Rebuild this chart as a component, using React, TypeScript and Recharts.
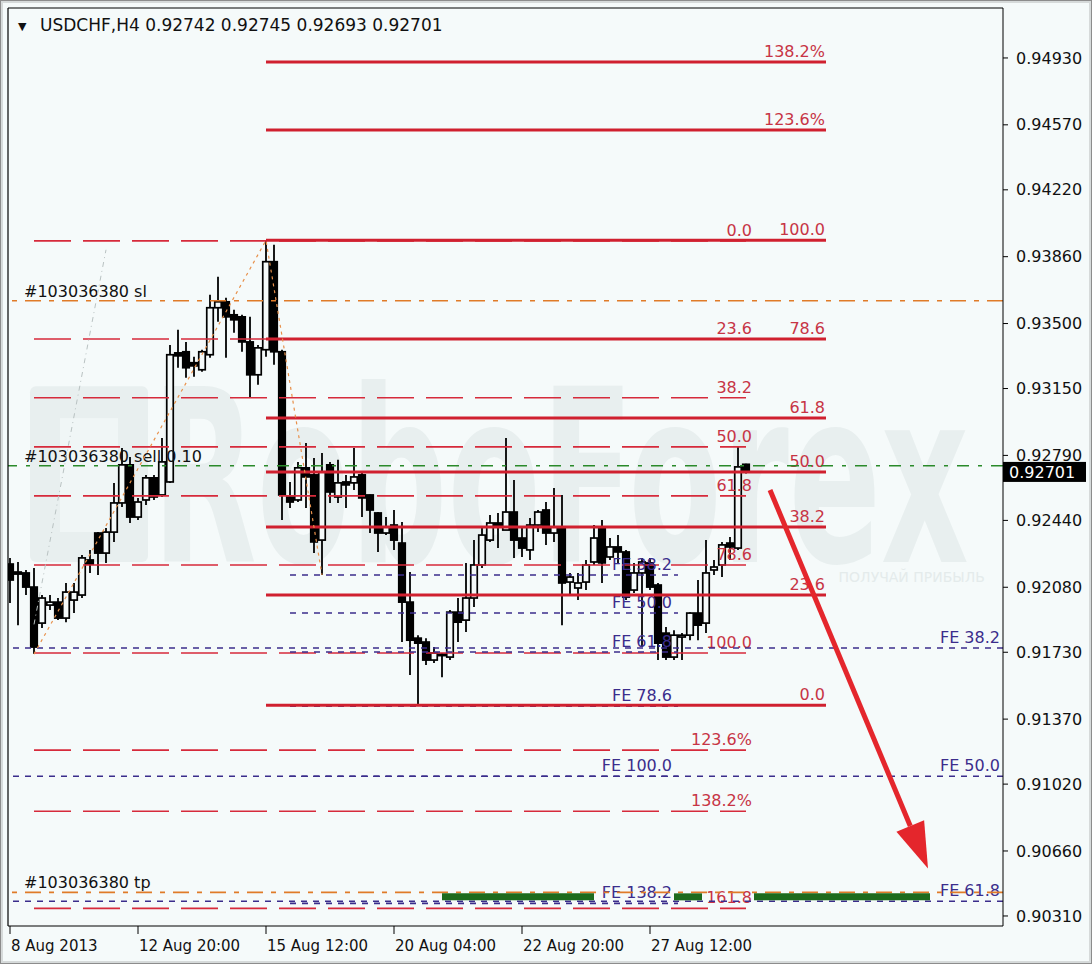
import React from 'react';
import { ComposedChart, Bar, Line, XAxis, YAxis, ReferenceLine, ReferenceArea } from 'recharts';

const FONT = '"DejaVu Sans", Verdana, sans-serif';
const BG = '#f5fafa';

// H4 candles, one per 4 hours, starting 8 Aug 2013
const opens = [
  0.92205, 0.92162, 0.92157, 0.92081, 0.91887, 0.91984, 0.92000, 0.91914, 0.92011, 0.92038,
  0.92227, 0.92372, 0.92264, 0.92377, 0.92534, 0.92739, 0.92458, 0.92550, 0.92669, 0.92577,
  0.92647, 0.93342, 0.93348, 0.93289, 0.93251, 0.93332, 0.93585, 0.93617, 0.93547, 0.93536,
  0.93401, 0.93224, 0.93359, 0.93833, 0.93348, 0.92566, 0.92550, 0.92723, 0.92685, 0.92334,
  0.92739, 0.92566, 0.92647, 0.92642, 0.92685, 0.92577, 0.92480, 0.92372, 0.92415, 0.92318,
  0.92000, 0.91806, 0.91785, 0.91688, 0.91720, 0.91704, 0.91946, 0.91903, 0.92022, 0.92200,
  0.92334, 0.92426, 0.92388, 0.92485, 0.92345, 0.92281, 0.92415, 0.92496, 0.92372, 0.92404,
  0.92108, 0.92076, 0.92108, 0.92216, 0.92399, 0.92243, 0.92297, 0.92270, 0.92065, 0.92157,
  0.92211, 0.92092, 0.91833, 0.91704, 0.91812, 0.91822, 0.91941, 0.91887, 0.92173, 0.92200,
  0.92318, 0.92291, 0.92742,
];
const highs = [
  0.92238, 0.92216, 0.92173, 0.92184, 0.92038, 0.92038, 0.92022, 0.92103, 0.92103, 0.92254,
  0.92281, 0.92377, 0.92399, 0.92642, 0.92830, 0.92782, 0.92561, 0.92685, 0.92685, 0.92884,
  0.93385, 0.93466, 0.93401, 0.93321, 0.93359, 0.93655, 0.93752, 0.93639, 0.93574, 0.93547,
  0.93536, 0.93385, 0.93948, 0.93924, 0.93359, 0.92647, 0.92755, 0.92857, 0.92776, 0.92803,
  0.92755, 0.92766, 0.92685, 0.92830, 0.92696, 0.92580, 0.92485, 0.92458, 0.92496, 0.92431,
  0.92162, 0.91822, 0.91806, 0.91758, 0.91726, 0.91957, 0.92022, 0.92211, 0.92334, 0.92399,
  0.92469, 0.92480, 0.92884, 0.92658, 0.92399, 0.92453, 0.92496, 0.92539, 0.92615, 0.92577,
  0.92157, 0.92157, 0.92227, 0.92415, 0.92442, 0.92345, 0.92361, 0.92281, 0.92211, 0.92238,
  0.92238, 0.92103, 0.91866, 0.91849, 0.91833, 0.91946, 0.92119, 0.92334, 0.92227, 0.92324,
  0.92351, 0.92836, 0.92745,
];
const lows = [
  0.91995, 0.91876, 0.92038, 0.91720, 0.91860, 0.91957, 0.91903, 0.91892, 0.91941, 0.92022,
  0.92157, 0.92146, 0.92211, 0.92324, 0.92512, 0.92426, 0.92442, 0.92523, 0.92550, 0.92566,
  0.92642, 0.93262, 0.93208, 0.93213, 0.93240, 0.93316, 0.93509, 0.93316, 0.93450, 0.93348,
  0.93100, 0.93170, 0.93321, 0.93278, 0.92442, 0.92507, 0.92539, 0.92507, 0.92264, 0.92146,
  0.92534, 0.92534, 0.92507, 0.92604, 0.92458, 0.92372, 0.92270, 0.92361, 0.92281, 0.91785,
  0.91607, 0.91445, 0.91661, 0.91672, 0.91596, 0.91688, 0.91785, 0.91839, 0.91973, 0.92184,
  0.92324, 0.92291, 0.92388, 0.92238, 0.92243, 0.92227, 0.92377, 0.92308, 0.92324, 0.91876,
  0.92038, 0.92011, 0.92065, 0.92200, 0.92103, 0.92227, 0.92211, 0.92011, 0.92049, 0.91758,
  0.92065, 0.91688, 0.91688, 0.91688, 0.91688, 0.91795, 0.91795, 0.91833, 0.92146, 0.92135,
  0.92227, 0.92281, 0.92693,
];
const closes = [
  0.92119, 0.92151, 0.92081, 0.91758, 0.92022, 0.92000, 0.91914, 0.92054, 0.92054, 0.92238,
  0.92205, 0.92264, 0.92377, 0.92534, 0.92739, 0.92458, 0.92539, 0.92669, 0.92566, 0.92755,
  0.93332, 0.93326, 0.93262, 0.93272, 0.93348, 0.93585, 0.93617, 0.93536, 0.93520, 0.93401,
  0.93224, 0.93369, 0.93833, 0.93348, 0.92577, 0.92539, 0.92723, 0.92674, 0.92324, 0.92701,
  0.92593, 0.92642, 0.92631, 0.92674, 0.92561, 0.92496, 0.92372, 0.92404, 0.92334, 0.92000,
  0.91795, 0.91779, 0.91688, 0.91726, 0.91715, 0.91946, 0.91892, 0.92022, 0.92200, 0.92361,
  0.92426, 0.92404, 0.92485, 0.92334, 0.92291, 0.92415, 0.92485, 0.92372, 0.92404, 0.92103,
  0.92135, 0.92103, 0.92200, 0.92345, 0.92211, 0.92297, 0.92270, 0.92027, 0.92157, 0.92216,
  0.92081, 0.91779, 0.91704, 0.91822, 0.91822, 0.91941, 0.91876, 0.92157, 0.92189, 0.92308,
  0.92297, 0.92728, 0.92701,
];

const dateTicks = [0, 16, 32, 48, 64, 80];
const dateLabels = ['8 Aug 2013', '12 Aug 20:00', '15 Aug 12:00', '20 Aug 04:00', '22 Aug 20:00', '27 Aug 12:00'];

const priceTicks = [
  0.9493, 0.9457, 0.9422, 0.9386, 0.935, 0.9315, 0.9279, 0.9244, 0.9208, 0.9173, 0.9137, 0.9102, 0.9066, 0.9031,
];

// zigzag swing points (bar index, price)
const zigzagIdx = [3, 32, 39];
const zigzagPrice = [0.9172, 0.93948, 0.92146];

// Fibonacci retracement (dashed)
const retrLabels = ['0.0', '23.6', '38.2', '50.0', '61.8', '78.6', '100.0', '123.6%', '138.2%', '161.8'];
const retrPrices = [0.93945, 0.93417, 0.931, 0.92836, 0.92572, 0.922, 0.91726, 0.91203, 0.90874, 0.90351];
// Fibonacci levels (solid)
const expLabels = ['0.0', '23.6', '38.2', '50.0', '61.8', '78.6', '100.0', '123.6%', '138.2%'];
const expPrices = [0.91445, 0.92038, 0.92404, 0.92701, 0.92992, 0.93417, 0.93948, 0.94542, 0.94908];
// Fibonacci expansions (dotted)
const feShortLabels = ['FE 38.2', 'FE 50.0', 'FE 61.8', 'FE 78.6', 'FE 100.0', 'FE 138.2'];
const feShortPrices = [0.92146, 0.91941, 0.91731, 0.9144, 0.91062, 0.90378];
const feLongLabels = ['FE 38.2', 'FE 50.0', 'FE 61.8'];
const feLongPrices = [0.91753, 0.91062, 0.90389];

// order lines
const orderLabels = ['#103036380 sl', '#103036380 sell 0.10', '#103036380 tp'];
const orderPrices = [0.93623, 0.92734, 0.90437];

const tpZonePrice = 0.90413;
const tpZoneSpans = [[54, 73], [83, 86.5], [93, 115]];

const arrowFrom = { x: 95, y: 0.92604 };
const arrowTo = { x: 114.75, y: 0.90566 };
const trendFrom = { x: 3, y: 0.9188 };
const trendTo = { x: 12, y: 0.93897 };

const lastPrice = 0.92701;

const X_MIN = -0.25;
const X_MAX = 124.125;
const Y_MIN = 0.90256;
const Y_MAX = 0.95199;

const RETR_SPAN = [3, 92];
const EXP_SPAN = [32, 102];
const FE_SPAN = [35, 83.5];

const rows = opens.map((o, i) => {
  const k = zigzagIdx.indexOf(i);
  return {
    i,
    open: o,
    high: highs[i],
    low: lows[i],
    close: closes[i],
    range: [lows[i], highs[i]],
    zz: k >= 0 ? zigzagPrice[k] : null,
  };
});

const Candle = (props: any) => {
  const { x, y, width, height, payload } = props;
  if (!payload || height == null || isNaN(y)) return null;
  const { open, close, high, low } = payload;
  const cx = x + width / 2;
  const k = high > low ? height / (high - low) : 0;
  const py = (v: number) => y + (high - v) * k;
  const top = py(Math.max(open, close));
  const bot = py(Math.min(open, close));
  const up = close >= open;
  const bw = 6.5;
  return (
    <g>
      <line x1={cx} x2={cx} y1={y} y2={y + height} stroke="#000" strokeWidth={1.8} />
      <rect
        x={cx - bw / 2}
        y={top}
        width={bw}
        height={Math.max(bot - top, 1.5)}
        fill={up ? BG : '#000'}
        stroke="#000"
        strokeWidth={1.7}
      />
    </g>
  );
};

const lineLabel =
  (text: string, color: string, anchor: 'start' | 'end', fromRight: boolean, dx: number, dy: number, size = 16) =>
  (props: any) => {
    const vb = props.viewBox;
    if (!vb) return null;
    const x = fromRight ? vb.x + vb.width + dx : vb.x + dx;
    return (
      <text x={x} y={vb.y + dy} textAnchor={anchor} fill={color} fontSize={size} fontFamily={FONT}>
        {text}
      </text>
    );
  };

const titleLabel = (props: any) => {
  const vb = props.viewBox;
  const n = opens.length - 1;
  const ohlc = [opens[n], highs[n], lows[n], closes[n]].map((v) => v.toFixed(5)).join(' ');
  return (
    <g fontFamily={FONT} fill="#111">
      <text x={vb.x + 10} y={vb.y + 22} fontSize={11}>▼</text>
      <text x={vb.x + 32} y={vb.y + 23} fontSize={17}>{`USDCHF,H4  ${ohlc}`}</text>
    </g>
  );
};

const priceBox = (props: any) => {
  const vb = props.viewBox;
  const x = vb.x + vb.width;
  return (
    <g>
      <rect x={x} y={vb.y - 10} width={83} height={20} fill="#000" />
      <text x={x + 6} y={vb.y + 6} fill="#fff" fontSize={16} fontFamily={FONT}>
        {lastPrice.toFixed(5)}
      </text>
    </g>
  );
};

const watermark = (props: any) => {
  const { x, y, width, height } = props.viewBox;
  const logoW = 118;
  return (
    <g fill="#e8efef">
      <rect x={x} y={y + 8} width={logoW} height={height - 8} rx={6} />
      <rect x={x + 30} y={y + 40} width={logoW - 60} height={height - 70} fill="#f0f6f6" />
      <text
        x={x + logoW + 4}
        y={y + height}
        fontSize={240}
        fontWeight="bold"
        fontFamily={FONT}
        textLength={width - logoW - 10}
        lengthAdjust="spacingAndGlyphs"
      >
        RoboForex
      </text>
      <text x={x + width + 10} y={y + height + 20} fontSize={14} fontFamily={FONT} textAnchor="end" fill="#e4ebeb">
        ПОЛУЧАЙ ПРИБЫЛЬ
      </text>
    </g>
  );
};

const Arrow = (p: any) => {
  const { x1, y1, x2, y2 } = p;
  const ang = Math.atan2(y2 - y1, x2 - x1);
  const L = 46;
  const W = 15;
  const bx = x2 - L * Math.cos(ang);
  const by = y2 - L * Math.sin(ang);
  const nx = -Math.sin(ang);
  const ny = Math.cos(ang);
  return (
    <g>
      <line x1={x1} y1={y1} x2={bx} y2={by} stroke="#e4262c" strokeWidth={5} />
      <polygon
        points={`${x2},${y2} ${bx + nx * W},${by + ny * W} ${bx - nx * W},${by - ny * W}`}
        fill="#e4262c"
      />
    </g>
  );
};

const DateTick = (props: any) => {
  const { x, y, payload } = props;
  const k = dateTicks.indexOf(payload.value);
  return (
    <text x={x + 1} y={y + 15} fontSize={15} fontFamily={FONT} fill="#111">
      {dateLabels[k]}
    </text>
  );
};

const RED = '#d0202f';
const RED_TXT = '#c73445';
const PURPLE = '#3b2d8c';

export default function App() {
  return (
    <div
      style={{
        position: 'absolute',
        left: 0,
        top: 0,
        width: 1092,
        height: 964,
        background: BG,
        boxShadow: 'inset 0 0 0 1px #8c8c8c, inset 0 0 0 3px #d6dada',
      }}
    >
      <ComposedChart width={1092} height={964} data={rows} margin={{ top: 8, right: 0, bottom: 0, left: 8 }}>
        <XAxis
          dataKey="i"
          type="number"
          domain={[X_MIN, X_MAX]}
          allowDataOverflow
          ticks={dateTicks}
          interval={0}
          height={38}
          tickSize={8}
          tick={<DateTick />}
          axisLine={{ stroke: '#000' }}
          tickLine={{ stroke: '#000' }}
        />
        <YAxis
          orientation="right"
          type="number"
          domain={[Y_MIN, Y_MAX]}
          allowDataOverflow
          ticks={priceTicks}
          interval={0}
          width={89}
          tickSize={5}
          tickMargin={8}
          tickFormatter={(v: number) => v.toFixed(5)}
          tick={{ fontSize: 16, fontFamily: FONT, fill: '#111' }}
          axisLine={{ stroke: '#000' }}
          tickLine={{ stroke: '#000' }}
        />

        <ReferenceArea
          x1={2.5}
          x2={120.6}
          y1={0.92216}
          y2={0.93206}
          fill="none"
          stroke="none"
          label={watermark}
        />

        {retrPrices.map((p, k) => (
          <ReferenceLine
            key={`r${k}`}
            segment={[{ x: RETR_SPAN[0], y: p }, { x: RETR_SPAN[1], y: p }]}
            stroke="#d62a3b"
            strokeWidth={1.6}
            strokeDasharray="37 12"
            label={lineLabel(retrLabels[k], RED_TXT, 'end', true, 6, -5)}
          />
        ))}

        {feShortPrices.map((p, k) => (
          <ReferenceLine
            key={`fs${k}`}
            segment={[{ x: FE_SPAN[0], y: p }, { x: FE_SPAN[1], y: p }]}
            stroke={PURPLE}
            strokeWidth={1.6}
            strokeDasharray="6 6"
            label={lineLabel(feShortLabels[k], PURPLE, 'end', true, -6, -5)}
          />
        ))}

        {feLongPrices.map((p, k) => (
          <ReferenceLine
            key={`fl${k}`}
            y={p}
            stroke={PURPLE}
            strokeWidth={1.6}
            strokeDasharray="6 6"
            label={lineLabel(feLongLabels[k], PURPLE, 'end', true, -3, -5)}
          />
        ))}

        {expPrices.map((p, k) => (
          <ReferenceLine
            key={`e${k}`}
            segment={[{ x: EXP_SPAN[0], y: p }, { x: EXP_SPAN[1], y: p }]}
            stroke={RED}
            strokeWidth={3}
            label={lineLabel(expLabels[k], RED_TXT, 'end', true, -1, -5)}
          />
        ))}

        <ReferenceLine
          y={orderPrices[0]}
          stroke="#e07b28"
          strokeWidth={1.6}
          strokeDasharray="16 8 5 8"
          label={lineLabel(orderLabels[0], '#111', 'start', false, 16, -4)}
        />
        <ReferenceLine
          y={orderPrices[1]}
          stroke="#2a8a2a"
          strokeWidth={1.6}
          strokeDasharray="12 9 4 9"
          label={lineLabel(orderLabels[1], '#111', 'start', false, 16, -4)}
        />
        <ReferenceLine
          y={orderPrices[2]}
          stroke="#e07b28"
          strokeWidth={1.6}
          strokeDasharray="16 8 5 8"
          label={lineLabel(orderLabels[2], '#111', 'start', false, 16, -4)}
        />

        {tpZoneSpans.map((s, k) => (
          <ReferenceLine
            key={`tp${k}`}
            segment={[{ x: s[0], y: tpZonePrice }, { x: s[1], y: tpZonePrice }]}
            stroke="#1d6b1d"
            strokeWidth={7}
          />
        ))}

        <ReferenceLine
          segment={[trendFrom, trendTo]}
          stroke="#b9c2c2"
          strokeWidth={1}
          strokeDasharray="5 4 1 4"
        />

        <Line
          dataKey="zz"
          stroke="#e8904a"
          strokeWidth={1.2}
          strokeDasharray="3 4"
          dot={false}
          connectNulls
          isAnimationActive={false}
        />

        <Bar dataKey="range" barSize={6} shape={<Candle />} isAnimationActive={false} />

        <ReferenceLine segment={[arrowFrom, arrowTo]} shape={Arrow} />

        <ReferenceLine y={lastPrice} stroke="none" label={priceBox} />

        <ReferenceLine x={X_MIN} stroke="#000" strokeWidth={1.2} />
        <ReferenceLine y={Y_MAX} stroke="#000" strokeWidth={1.2} label={titleLabel} />
      </ComposedChart>
    </div>
  );
}
